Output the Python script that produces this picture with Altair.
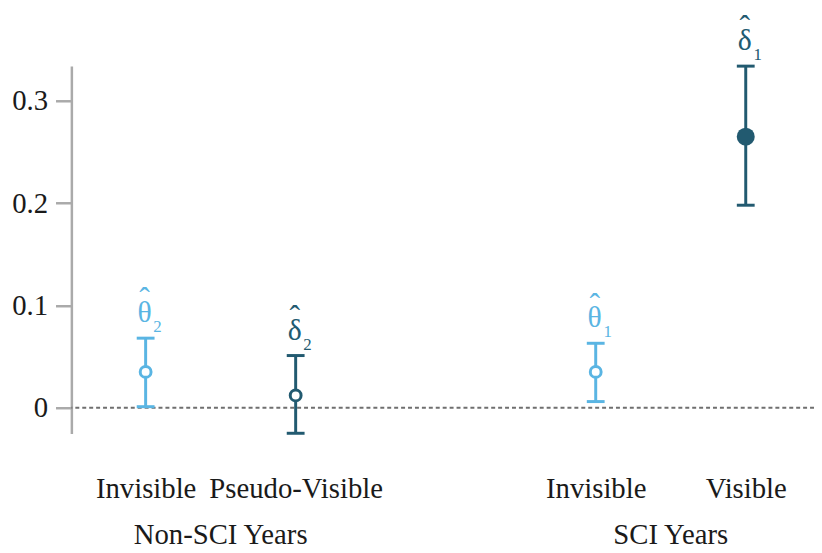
import altair as alt
import pandas as pd

# ---- data ----
symbols = ["θ", "δ", "θ", "δ"]
hats = ["ˆ", "ˆ", "ˆ", "ˆ"]
subscripts = ["2", "2", "1", "1"]
positions = [1, 2, 4, 5]
categories = ["Invisible", "Pseudo-Visible", "Invisible", "Visible"]
estimates = [0.035, 0.012, 0.035, 0.265]
lower = [0.001, -0.025, 0.006, 0.198]
upper = [0.068, 0.051, 0.063, 0.334]
kinds = ["theta", "delta", "theta", "delta"]
filled = [False, False, False, True]

group_names = ["Non-SCI Years", "SCI Years"]
group_centers = [1.5, 4.5]

y_ticks = [0, 0.1, 0.2, 0.3]

LIGHT = "#5ab5e3"
DARK = "#225a70"
FONT = "'Liberation Serif', 'Times New Roman', 'DejaVu Serif', serif"

df = pd.DataFrame({
    "sym": symbols, "hat": hats, "sub": subscripts, "pos": positions, "cat": categories,
    "est": estimates, "lo": lower, "hi": upper, "kind": kinds, "filled": filled,
})
groups = pd.DataFrame({"name": group_names, "pos": group_centers})
zero = pd.DataFrame({"y": [0]})

label_expr = " : ".join(
    f"datum.value == {p} ? '{c}'" for p, c in zip(positions, categories)
) + " : ''"

xscale = alt.Scale(domain=[0.505, 5.455], nice=False, zero=False)
yscale = alt.Scale(domain=[-0.0252, 0.334], nice=False, zero=False)
color = alt.Color("kind:N", scale=alt.Scale(domain=["theta", "delta"], range=[LIGHT, DARK]), legend=None)

x_enc = alt.X("pos:Q", scale=xscale,
              axis=alt.Axis(values=positions, labelExpr=label_expr, domain=False, ticks=False,
                            tickSize=0, grid=False, title=None, labelFont=FONT, labelFontSize=29,
                            labelColor="#1a1a1a", labelPadding=65, labelBaseline="alphabetic",
                            labelOverlap=False, labelFlush=False))

base = alt.Chart(df)
X = alt.X("pos:Q", scale=xscale)

zero_rule = alt.Chart(zero).mark_rule(color="#6f6f6f", strokeWidth=2, strokeDash=[4, 3]).encode(
    y=alt.Y("y:Q", scale=yscale)
)

bars = base.mark_rule(strokeWidth=3).encode(
    x=x_enc,
    y=alt.Y("lo:Q", scale=yscale,
            axis=alt.Axis(values=y_ticks, labelExpr="datum.value == 0 ? '0' : format(datum.value, '.1f')",
                          grid=False, title=None, domainColor="#aaaaaa", domainWidth=2.5,
                          tickColor="#aaaaaa", tickWidth=2.5, tickSize=16, labelFont=FONT,
                          labelFontSize=29, labelColor="#1a1a1a", labelPadding=8)),
    y2="hi:Q",
    color=color,
)

caps_lo = base.mark_tick(orient="horizontal", size=18, thickness=3, opacity=1).encode(
    x=X, y=alt.Y("lo:Q", scale=yscale), color=color
)
caps_hi = base.mark_tick(orient="horizontal", size=18, thickness=3, opacity=1).encode(
    x=X, y=alt.Y("hi:Q", scale=yscale), color=color
)

open_pts = base.transform_filter("!datum.filled").mark_point(
    filled=False, strokeWidth=3, size=120, shape="circle", opacity=1, fill="white", fillOpacity=1
).encode(x=X, y=alt.Y("est:Q", scale=yscale), color=color)

solid_pts = base.transform_filter("datum.filled").mark_point(
    filled=True, size=330, shape="circle", opacity=1
).encode(x=X, y=alt.Y("est:Q", scale=yscale), color=color)

sym_text = base.mark_text(font=FONT, fontSize=30, baseline="alphabetic", align="center", dy=-16, dx=-1).encode(
    x=X, y=alt.Y("hi:Q", scale=yscale), text="sym:N", color=color
)
hat_text = base.mark_text(font=FONT, fontSize=32, baseline="alphabetic", align="center", dy=-29, dx=-1).encode(
    x=X, y=alt.Y("hi:Q", scale=yscale), text="hat:N", color=color
)
sub_text = base.mark_text(font=FONT, fontSize=17, baseline="alphabetic", align="center", dy=-6, dx=12).encode(
    x=X, y=alt.Y("hi:Q", scale=yscale), text="sub:N", color=color
)

group_text = alt.Chart(groups).mark_text(font=FONT, fontSize=29, baseline="alphabetic", align="center",
                                         color="#1a1a1a").encode(
    x=X, y=alt.value(483), text="name:N"
)

chart = alt.layer(zero_rule, bars, caps_lo, caps_hi, open_pts, solid_pts,
                  sym_text, hat_text, sub_text, group_text).properties(
    width=750, height=371,
    autosize=alt.AutoSizeParams(type="none"),
    padding={"left": 64, "top": 56, "right": 0, "bottom": 118},
).configure(background="white", view=alt.ViewConfig(stroke=None))

chart.save("out.html", embed_options={"renderer": "svg", "actions": False})
